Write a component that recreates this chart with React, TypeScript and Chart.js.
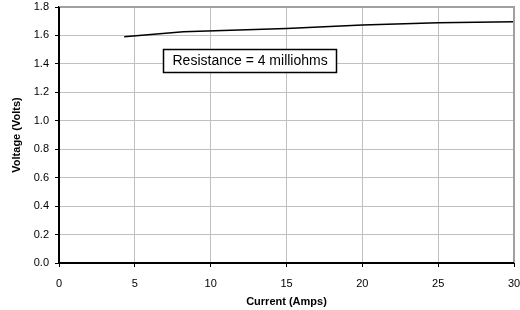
import React, { useEffect, useRef } from "react";
import { Chart, registerables } from "chart.js";

Chart.register(...registerables);

const currentAmps = [4.3, 8.2, 15, 20, 25, 30];
const voltageVolts = [1.59, 1.626, 1.649, 1.674, 1.689, 1.696];
const annotationText = "Resistance = 4 milliohms";
const annotationAt = { x: 12.6, y: 1.425 };

const FONT = "Arial, 'Liberation Sans', sans-serif";

const annotationPlugin = {
  id: "annot",
  afterDatasetsDraw(chart: any) {
    const { ctx, scales, chartArea } = chart;
    ctx.save();
    ctx.strokeStyle = "#a0a0a0";
    ctx.lineWidth = 2;
    ctx.beginPath();
    ctx.moveTo(chartArea.left, chartArea.top);
    ctx.lineTo(chartArea.right, chartArea.top);
    ctx.lineTo(chartArea.right, chartArea.bottom);
    ctx.stroke();
    ctx.strokeStyle = "#000";
    ctx.beginPath();
    ctx.moveTo(chartArea.left, chartArea.top);
    ctx.lineTo(chartArea.left, chartArea.bottom);
    ctx.lineTo(chartArea.right, chartArea.bottom);
    ctx.stroke();

    const cx = scales.x.getPixelForValue(annotationAt.x);
    const cy = scales.y.getPixelForValue(annotationAt.y);
    ctx.font = `14px ${FONT}`;
    const w = ctx.measureText(annotationText).width + 18;
    const h = 23;
    ctx.fillStyle = "#fff";
    ctx.fillRect(cx - w / 2, cy - h / 2, w, h);
    ctx.strokeStyle = "#000";
    ctx.lineWidth = 1.5;
    ctx.strokeRect(Math.round(cx - w / 2) + 0.5, Math.round(cy - h / 2) + 0.5, Math.round(w), h);
    ctx.fillStyle = "#000";
    ctx.textAlign = "center";
    ctx.textBaseline = "middle";
    ctx.fillText(annotationText, cx, cy + 1);
    ctx.restore();
  },
};

export default function App() {
  const ref = useRef<HTMLCanvasElement>(null);
  useEffect(() => {
    const chart = new Chart(ref.current!, {
      type: "line",
      data: {
        datasets: [
          {
            data: currentAmps.map((x, i) => ({ x, y: voltageVolts[i] })),
            borderColor: "#000",
            borderWidth: 1.5,
            pointRadius: 0,
            tension: 0,
            fill: false,
          },
        ],
      },
      options: {
        animation: false,
        responsive: false,
        maintainAspectRatio: false,
        layout: { autoPadding: false, padding: { top: 7, right: 6, left: 10, bottom: 0 } },
        plugins: { legend: { display: false }, tooltip: { enabled: false } },
        scales: {
          x: {
            type: "linear",
            min: 0,
            max: 30,
            afterFit: (s: any) => {
              s.height = 47;
              s.paddingLeft = 0;
              s.paddingRight = 0;
            },
            ticks: { stepSize: 5, color: "#000", font: { family: FONT, size: 11 }, padding: 10 },
            grid: { color: "#c0c0c0", lineWidth: 1, tickLength: 4, tickColor: "#000" },
            border: { color: "#000", width: 2 },
            title: { display: true, text: "Current (Amps)", color: "#000", font: { family: FONT, size: 11, weight: "bold" }, padding: { top: 2, bottom: 1 } },
          },
          y: {
            min: 0,
            max: 1.8,
            afterFit: (s: any) => {
              s.width = 49;
              s.paddingTop = 0;
              s.paddingBottom = 0;
            },
            ticks: {
              stepSize: 0.2,
              color: "#000",
              font: { family: FONT, size: 11 },
              padding: 6,
              callback: (v: any) => Number(v).toFixed(1),
            },
            grid: { color: "#c0c0c0", lineWidth: 1, tickLength: 4, tickColor: "#000" },
            border: { color: "#000", width: 2 },
            title: { display: true, text: "Voltage (Volts)", color: "#000", font: { family: FONT, size: 11, weight: "bold" }, padding: { top: 0, bottom: 8 } },
          },
        },
      },
      plugins: [annotationPlugin],
    });
    return () => chart.destroy();
  }, []);
  return (
    <div style={{ position: "fixed", left: 0, top: 0, width: 520, height: 310, background: "#fff" }}>
      <canvas ref={ref} width={520} height={310} style={{ width: 520, height: 310 }} />
    </div>
  );
}
